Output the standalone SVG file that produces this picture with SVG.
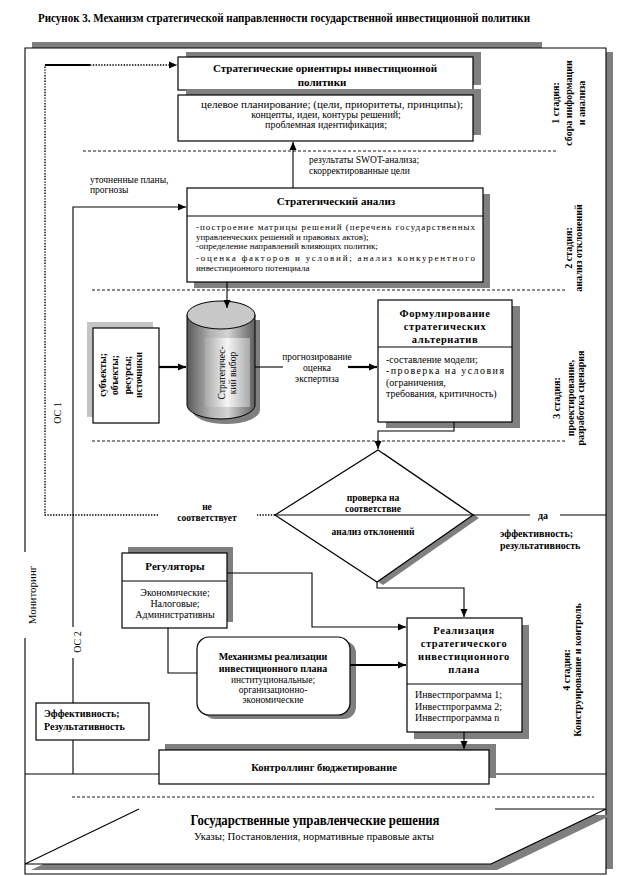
<svg xmlns="http://www.w3.org/2000/svg" width="631" height="876" viewBox="0 0 631 876" font-family="'Liberation Serif', 'DejaVu Serif', serif">
<defs>
<style>
.t{font-family:"Liberation Serif","DejaVu Serif",serif;fill:#000}
.b{font-weight:bold}
.box{fill:#fff;stroke:#000;stroke-width:1.2}
.sh{fill:#7f7f7f}
.ln{fill:none;stroke:#000;stroke-width:1.1}
.th{fill:none;stroke:#000;stroke-width:2.2}
.dash{fill:none;stroke:#000;stroke-width:0.9;stroke-dasharray:3 2}
.dot{fill:none;stroke:#000;stroke-width:1.4;stroke-dasharray:1.4 1.4}
</style>
<marker id="ah" markerWidth="9" markerHeight="8" refX="8" refY="4" orient="auto" markerUnits="userSpaceOnUse"><path d="M0,0.5 L8,4 L0,7.5 z" fill="#000"/></marker>
<linearGradient id="cylg" x1="0" y1="0" x2="1" y2="0">
<stop offset="0" stop-color="#585858"/><stop offset="0.35" stop-color="#b4b4b4"/><stop offset="0.6" stop-color="#d4d4d4"/><stop offset="1" stop-color="#5e5e5e"/>
</linearGradient>
<linearGradient id="labg" x1="0" y1="0" x2="1" y2="0">
<stop offset="0" stop-color="#a8a8a8"/><stop offset="0.5" stop-color="#f6f6f6"/><stop offset="1" stop-color="#a8a8a8"/>
</linearGradient>
</defs>
<rect width="631" height="876" fill="#fff"/>
<text class="t b" font-size="11.5" x="38" y="22" textLength="492" lengthAdjust="spacingAndGlyphs">Рисунок 3. Механизм стратегической направленности государственной инвестиционной политики</text>

<g id="frame">
<rect x="32" y="42" width="510" height="7" class="sh"/>
<rect x="606" y="52" width="7" height="817" class="sh"/>
<rect x="25" y="48" width="581" height="826" fill="#fff"/>
<path class="ln" d="M25,552 V48 H606 V874 H25 V638"/>
<line class="ln" x1="25" y1="774" x2="606" y2="774"/>
<line class="dash" x1="83" y1="151" x2="558" y2="151"/>
<line class="dash" x1="92" y1="290" x2="567" y2="290"/>
<line class="dash" x1="92" y1="441" x2="567" y2="441"/>
<line class="dash" x1="72" y1="797" x2="594" y2="797"/>
<text class="t" font-size="11" text-anchor="middle" transform="translate(35.5,595) rotate(-90)">Мониторинг</text>
</g>

<g id="stages" class="t b" font-size="10" text-anchor="middle">
<text transform="translate(558.5,103) rotate(-90)">1 стадия:</text>
<text transform="translate(571.5,103) rotate(-90)">сбора информации</text>
<text transform="translate(584.5,103) rotate(-90)">и анализа</text>
<text transform="translate(571.5,248) rotate(-90)">2 стадия:</text>
<text transform="translate(581.5,248) rotate(-90)">анализ отклонений</text>
<text transform="translate(559.5,398) rotate(-90)">3 стадия:</text>
<text transform="translate(573.5,398) rotate(-90)">проектирование,</text>
<text transform="translate(583.5,398) rotate(-90)">разработка сценария</text>
<text transform="translate(569.5,670) rotate(-90)">4 стадия:</text>
<text transform="translate(580.5,670) rotate(-90)">Конструирование  и контроль</text>
</g>

<g id="orient">
<rect class="sh" x="186" y="52" width="295" height="33"/>
<rect class="box" x="178" y="57" width="295" height="33"/>
<rect class="sh" x="186" y="89" width="295" height="46"/>
<rect class="box" x="178" y="95" width="295" height="46"/>
<text class="t b" font-size="11" text-anchor="middle" x="325" y="72">Стратегические ориентиры инвестиционной</text>
<text class="t b" font-size="11" text-anchor="middle" x="322" y="86">политики</text>
<text class="t" font-size="10" text-anchor="middle" x="332" y="108" textLength="262" lengthAdjust="spacingAndGlyphs">целевое планирование;  (цели, приоритеты, принципы);</text>
<text class="t" font-size="10" text-anchor="middle" x="326" y="118">концепты, идеи, контуры решений;</text>
<text class="t" font-size="10" text-anchor="middle" x="326" y="128">проблемная идентификация;</text>
</g>

<g id="labels-top" class="t" font-size="9.5">
<text x="309" y="163">результаты SWOT-анализа;</text>
<text x="309" y="174">скорректированные цели</text>
<text x="90" y="183">уточненные планы,</text>
<text x="90" y="193">прогнозы</text>
</g>

<g id="analysis">
<rect class="sh" x="194" y="194" width="296" height="94"/>
<rect class="box" x="187" y="188" width="296" height="94"/>
<line class="ln" x1="187" y1="216" x2="483" y2="216"/>
<text class="t b" font-size="11" text-anchor="middle" x="336" y="205">Стратегический анализ</text>
<g class="t" font-size="9">
<text x="196" y="230" textLength="279" lengthAdjust="spacing">-построение матрицы решений (перечень государственных</text>
<text x="196" y="239.5">управленческих решений и правовых актов);</text>
<text x="196" y="249">-определение направлений влияющих политик;</text>
<text x="196" y="261" textLength="279" lengthAdjust="spacing">-оценка факторов и условий; анализ конкурентного</text>
<text x="196" y="270.5">инвестиционного потенциала</text>
</g>
</g>

<g id="subjects">
<rect x="87" y="322" width="66" height="95" fill="#c4c4c4"/>
<rect class="box" x="93" y="328" width="66" height="95"/>
<g class="t b" font-size="9.5" text-anchor="middle">
<text transform="translate(105.5,375) rotate(-90)">субъекты;</text>
<text transform="translate(117.5,375) rotate(-90)">объекты;</text>
<text transform="translate(130.5,375) rotate(-90)">ресурсы;</text>
<text transform="translate(141.5,375) rotate(-90)">источники</text>
</g>
</g>

<g id="choice">
<rect class="sh" x="192" y="320" width="68" height="90"/>
<ellipse class="sh" cx="226" cy="410" rx="34" ry="14"/>
<path d="M187,315 V405 A34,14 0 0 0 255,405 V315 Z" fill="url(#cylg)" stroke="#000" stroke-width="1"/>
<ellipse cx="221" cy="315" rx="34" ry="14" fill="#c8c8c8" stroke="#000" stroke-width="1"/>
<rect x="205" y="338" width="45" height="69" fill="url(#labg)"/>
<g class="t" font-size="9.5" text-anchor="middle">
<text transform="translate(225,373) rotate(-90)">Стратегичес-</text>
<text transform="translate(235.5,373) rotate(-90)">кий  выбор</text>
</g>
</g>

<g id="forecast" class="t" font-size="9.5" text-anchor="middle">
<text x="317" y="360">прогнозирование</text>
<text x="317" y="371">оценка</text>
<text x="317" y="382">экспертиза</text>
</g>

<g id="alternatives">
<rect class="sh" x="386" y="306" width="134" height="122"/>
<rect class="box" x="378" y="300" width="134" height="122"/>
<line class="ln" x1="378" y1="347" x2="512" y2="347"/>
<g class="t b" font-size="10.5" text-anchor="middle" letter-spacing="0.6">
<text x="445" y="317">Формулирование</text>
<text x="445" y="330">стратегических</text>
<text x="445" y="343">альтернатив</text>
</g>
<g class="t" font-size="10">
<text x="386" y="363">-составление модели;</text>
<text x="386" y="374" textLength="118" lengthAdjust="spacing">-проверка на условия</text>
<text x="386" y="386">(ограничения,</text>
<text x="386" y="397">требования, критичность)</text>
</g>
</g>

<g id="check">
<polygon class="sh" points="384,453 479,518 383,585 281,519"/>
<polygon class="box" points="378,450 473,515 377,582 275,515"/>
<line class="ln" x1="275" y1="515" x2="473" y2="515"/>
<g class="t b" font-size="9.5" text-anchor="middle">
<text x="373" y="501">проверка на</text>
<text x="373" y="512">соответствие</text>
<text x="373" y="535">анализ отклонений</text>
</g>
</g>

<g id="outcome-labels" class="t b" font-size="10">
<text x="543" y="519" text-anchor="middle">да</text>
<text x="500" y="537">эффективность;</text>
<text x="500" y="549">результативность</text>
<text x="207" y="510" text-anchor="middle" font-size="9.5">не</text>
<text x="207" y="521" text-anchor="middle" font-size="9.5">соответствует</text>
<text transform="translate(60.5,413) rotate(-90)" text-anchor="middle" font-weight="normal" font-size="10">ОС 1</text>
<text transform="translate(80.5,642) rotate(-90)" text-anchor="middle" font-weight="normal" font-size="10">ОС 2</text>
</g>

<g id="regulators">
<rect class="sh" x="128" y="547" width="105" height="75"/>
<rect class="box" x="122" y="553" width="105" height="75"/>
<line class="ln" x1="122" y1="581" x2="227" y2="581"/>
<text class="t b" font-size="11" text-anchor="middle" x="175" y="570">Регуляторы</text>
<g class="t" font-size="10" text-anchor="middle">
<text x="175" y="596">Экономические;</text>
<text x="175" y="607">Налоговые;</text>
<text x="175" y="618">Административны</text>
</g>
</g>

<g id="mechanisms">
<rect class="sh" x="203" y="641" width="153" height="78" rx="12"/>
<rect class="box" x="197" y="637" width="153" height="78" rx="12"/>
<g class="t" text-anchor="middle">
<text class="b" font-size="10" x="273" y="660">Механизмы реализации</text>
<text class="b" font-size="10" x="273" y="672">инвестиционного плана</text>
<text font-size="9.5" x="273" y="683">институциональные;</text>
<text font-size="9.5" x="273" y="693">организационно-</text>
<text font-size="9.5" x="273" y="703">экономические</text>
</g>
</g>

<g id="realization">
<rect class="sh" x="414" y="625" width="115" height="114"/>
<rect class="box" x="407" y="618" width="115" height="114"/>
<line class="ln" x1="407" y1="684" x2="522" y2="684"/>
<g class="t b" font-size="10.5" text-anchor="middle" letter-spacing="0.6">
<text x="464" y="634">Реализация</text>
<text x="464" y="647">стратегического</text>
<text x="464" y="660">инвестиционного</text>
<text x="464" y="673">плана</text>
</g>
<g class="t" font-size="10">
<text x="415" y="698">Инвестпрограмма 1;</text>
<text x="415" y="710">Инвестпрограмма  2;</text>
<text x="415" y="721">Инвестпрограмма  n</text>
</g>
</g>

<g id="efficiency">
<rect class="box" x="36" y="703" width="113" height="37"/>
<text class="t b" font-size="10" x="44" y="717">Эффективность;</text>
<text class="t b" font-size="10" x="44" y="730">Результативность</text>
</g>

<g id="controlling">
<rect class="sh" x="165" y="744" width="331" height="34"/>
<rect class="box" x="159" y="750" width="330" height="34"/>
<text class="t b" font-size="10.5" text-anchor="middle" x="324" y="771">Контроллинг  бюджетирование</text>
</g>

<g id="decisions">
<polygon class="sh" points="31,870 145,815 612,815 497,870"/>
<polygon points="25,864 139,809 606,809 491,864" fill="#fff"/>
<path class="ln" d="M139,809 L25,864 H491 L606,809 H495"/>
<text class="t b" font-size="14" text-anchor="middle" x="315" y="825" textLength="249" lengthAdjust="spacingAndGlyphs">Государственные управленческие решения</text>
<text class="t" font-size="10" text-anchor="middle" x="314" y="840" textLength="240" lengthAdjust="spacingAndGlyphs">Указы; Постановления, нормативные правовые  акты</text>
</g>

<g id="connectors">
<path class="ln" d="M293,188 V142" marker-end="url(#ah)"/>
<path class="th" d="M45,65 H90"/>
<path class="dot" d="M90,65 H177" stroke-width="2" marker-end="url(#ah)"/>
<path class="dot" d="M158,515 H45 V65"/>
<path class="dot" d="M275,515 H257"/>
<path class="ln" d="M73,627 V207 H186" marker-end="url(#ah)"/>
<path class="ln" d="M73,703 V658"/>
<path class="ln" d="M73,740 V774"/>
<path class="ln" d="M227,282 V308" marker-end="url(#ah)"/>
<path class="th" d="M159,367 H186" marker-end="url(#ah)"/>
<path class="ln" d="M255,367 H283"/>
<path class="th" d="M348,367 H377" marker-end="url(#ah)"/>
<path class="ln" d="M454,422 V431 H378 V449" marker-end="url(#ah)"/>
<path class="ln" d="M473,515 H530"/>
<path class="ln" d="M560,515 H606"/>
<path class="ln" d="M377,582 V588 H464 V617" marker-end="url(#ah)"/>
<path class="ln" d="M227,573 H312 V627 H406" marker-end="url(#ah)"/>
<path class="ln" d="M168,628 V673 H197"/>
<path class="th" d="M350,665 H406" marker-end="url(#ah)"/>
<path class="ln" d="M464,732 V749" marker-end="url(#ah)"/>
</g>
</svg>
